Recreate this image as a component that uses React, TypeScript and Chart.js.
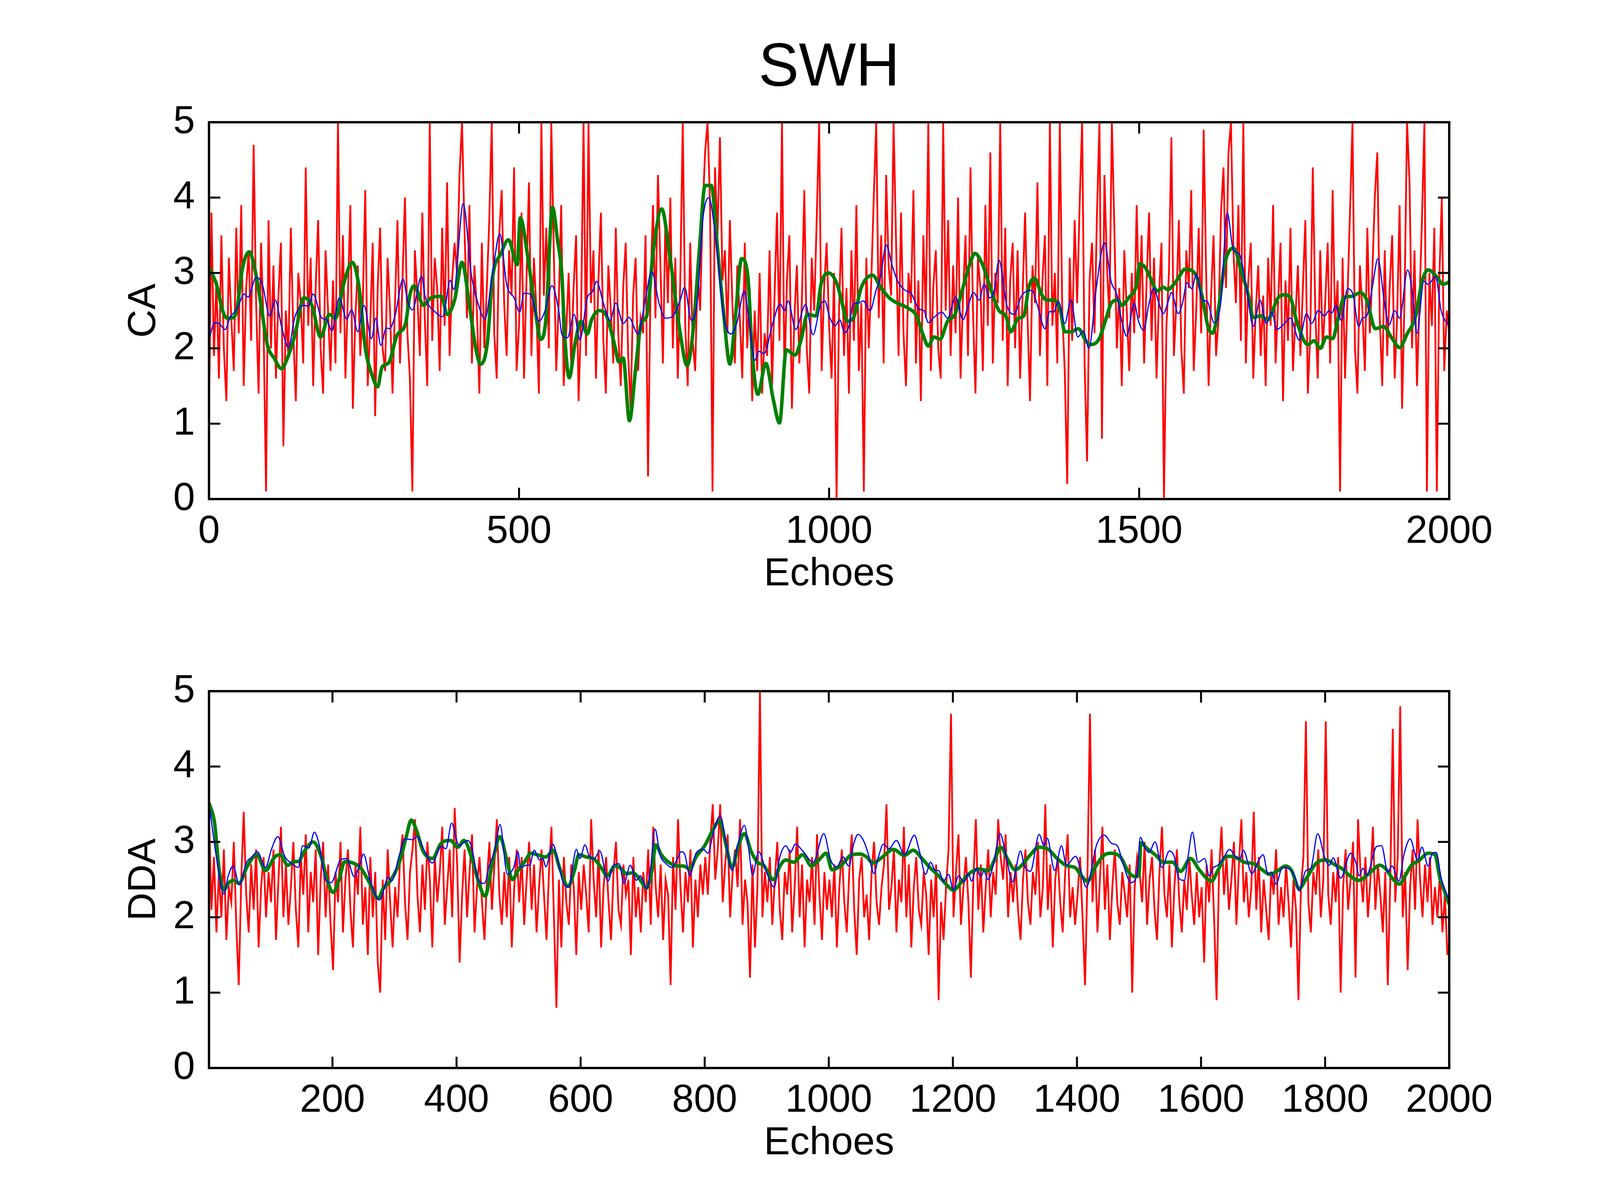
import React, { useEffect, useRef } from "react";
import { Chart, registerables } from "chart.js";

Chart.register(...registerables);

// ---- data ----

// x ticks / y ticks
const X_TICKS_CA = [0, 500, 1000, 1500, 2000];
const X_TICKS_DDA = [200, 400, 600, 800, 1000, 1200, 1400, 1600, 1800, 2000];
const Y_TICKS = [0, 1, 2, 3, 4, 5];

// raw red series, one value every RED_STEP echoes
const RED_STEP = 4;
const RED_CA_START = 0;
const RED_DDA_START = 1;

// CA raw (echo 0..2000)
const RED_CA = [
  1.1, 3.8, 1.9, 2.9, 1.6, 3.5, 2.0, 1.3, 3.2, 2.4, 1.7, 3.6, 2.2, 3.9, 1.5, 2.8, 3.3, 2.1, 4.7, 2.6, 1.4, 3.4, 2.3, 0.1, 3.7,
  2.0, 3.1, 1.6, 2.7, 3.4, 0.7, 2.5, 1.9, 3.6, 2.2, 1.3, 3.0, 2.6, 1.8, 4.4, 2.3, 3.2, 1.5, 2.8, 3.7, 2.0, 1.4, 3.3, 2.5, 1.7,
  2.9, 1.8, 5.0, 2.2, 3.5, 1.6, 2.7, 3.9, 1.2, 2.4, 3.1, 1.9, 2.6, 4.1, 1.5, 2.3, 3.4, 1.1, 2.8, 3.6, 2.0, 1.7, 3.2, 2.5, 1.4,
  2.6, 3.7, 1.8, 2.9, 4.0, 2.2, 1.6, 0.1, 3.3, 2.7, 1.9, 3.8, 2.4, 1.5, 5.0, 2.1, 3.2, 2.8, 1.7, 3.6, 2.3, 4.2, 1.9, 2.9, 3.4,
  3.0, 4.3, 5.0, 3.6, 2.4, 3.9, 1.8, 3.1, 2.5, 1.4, 3.4, 2.0, 2.8, 3.7, 5.0, 2.2, 1.6, 3.5, 4.1, 2.6, 1.9, 3.3, 2.7, 4.4, 1.7,
  2.3, 3.8, 1.6, 2.9, 4.2, 1.9, 3.2, 2.5, 1.4, 5.0, 2.7, 3.6, 2.0, 5.0, 3.3, 1.7, 2.6, 3.9, 1.5, 2.2, 3.0, 1.8, 2.8, 3.5, 1.3,
  2.4, 5.0, 1.9, 5.0, 2.6, 3.3, 1.6, 2.9, 3.8, 2.1, 1.4, 3.1, 2.5, 1.8, 3.6, 2.2, 1.5, 2.8, 3.4, 1.9, 1.2, 2.7, 3.2, 1.7, 2.4,
  2.2, 3.5, 0.3, 2.8, 3.9, 2.4, 4.3, 3.1, 1.8, 3.7, 2.6, 4.0, 2.0, 3.2, 1.6, 2.9, 5.0, 2.3, 1.5, 3.4, 2.1, 1.7, 3.0, 2.5, 3.8,
  4.6, 5.0, 3.9, 0.1, 4.4, 3.5, 4.8, 2.9, 3.3, 2.2, 3.7, 2.6, 1.8, 3.1, 2.4, 1.6, 3.4, 2.0, 2.8, 1.3, 2.5, 1.7, 3.0, 1.4, 2.2,
  1.9, 3.3, 1.5, 2.7, 3.8, 2.1, 5.0, 1.6, 2.9, 3.5, 1.2, 2.4, 3.1, 1.8, 2.6, 4.1, 2.0, 1.4, 3.2, 2.5, 3.7, 5.0, 1.7, 2.8, 3.4,
  2.3, 1.6, 3.0, 0.0, 2.5, 3.6, 1.9, 2.8, 1.4, 3.3, 2.1, 3.9, 1.7, 2.6, 0.1, 3.2, 2.0, 2.9, 4.0, 5.0, 2.4, 3.5, 1.8, 4.3, 3.1,
  2.7, 5.0, 3.4, 1.9, 3.8, 2.2, 1.5, 3.0, 2.6, 4.1, 1.8, 2.9, 1.3, 3.5, 2.4, 5.0, 1.7, 2.8, 3.3, 2.0, 1.6, 5.0, 2.5, 3.7, 1.9,
  3.1, 2.2, 4.0, 1.6, 2.7, 3.5, 1.9, 4.4, 2.5, 1.4, 3.2, 2.8, 1.7, 3.9, 2.3, 4.6, 1.8, 3.0, 2.6, 5.0, 2.1, 3.6, 1.5, 2.9, 3.4,
  2.0, 3.3, 1.6, 2.7, 3.8, 2.4, 1.3, 3.1, 2.6, 4.2, 1.9, 2.9, 3.5, 1.5, 5.0, 2.3, 3.0, 1.8, 5.0, 2.5, 1.7, 0.2, 3.2, 2.1, 3.7,
  2.6, 3.9, 5.0, 1.8, 0.5, 2.9, 3.4, 2.2, 3.8, 5.0, 0.8, 4.3, 3.1, 2.4, 5.0, 3.6, 2.0, 2.8, 1.5, 3.3, 2.5, 1.7, 3.0, 2.2, 3.9,
  2.4, 3.5, 1.8, 2.9, 3.8, 2.1, 3.2, 1.6, 2.7, 3.4, 0.0, 2.3, 3.0, 4.8, 1.9, 2.6, 3.7, 2.0, 1.4, 3.3, 2.8, 4.1, 1.7, 2.5, 3.6,
  2.2, 4.9, 3.0, 1.5, 2.7, 3.5, 1.9, 2.4, 3.8, 4.4, 2.8, 4.6, 5.0, 3.3, 2.6, 3.9, 2.1, 5.0, 1.8, 2.9, 3.4, 1.6, 2.5, 3.1, 1.9,
  2.7, 1.5, 3.2, 2.3, 3.9, 1.8, 2.6, 3.4, 1.3, 2.9, 2.1, 3.6, 1.7, 2.4, 3.1, 1.9, 2.8, 3.7, 1.4, 2.2, 4.4, 2.5, 1.6, 3.3, 2.0,
  2.6, 3.4, 1.8, 4.1, 2.3, 2.9, 0.1, 3.2, 1.6, 2.7, 3.8, 5.0, 2.0, 1.4, 3.1, 2.5, 1.7, 3.6, 2.2, 3.0, 4.0, 4.6, 2.4, 1.5, 3.3,
  1.9, 2.8, 3.5, 1.6, 2.4, 3.9, 1.2, 2.7, 5.0, 4.2, 2.0, 3.3, 1.5, 2.6, 3.7, 5.0, 0.1, 3.0, 2.3, 3.6, 0.1, 2.9, 4.0, 1.7, 2.5,
  2.2,
];

// DDA raw (echo 1..1997)
const RED_DDA = [
  3.4, 2.1, 2.8, 1.8, 2.6, 2.0, 2.9, 1.7, 2.4, 2.2, 3.0, 1.9, 1.1, 2.5, 3.4, 2.3, 1.8, 2.7, 2.1, 2.9, 1.6, 2.4, 2.8, 2.0, 2.6,
  2.2, 2.9, 1.7, 2.5, 3.2, 2.0, 2.7, 1.9, 2.4, 3.0, 2.1, 1.6, 2.8, 2.3, 3.1, 1.8, 2.6, 2.2, 2.9, 1.5, 2.5, 3.0, 2.0, 2.7, 1.9,
  1.3, 2.6, 2.2, 3.0, 1.8, 2.5, 2.9, 2.1, 1.6, 2.7, 2.3, 3.2, 1.9, 2.4, 1.5, 2.8, 2.0, 2.6, 1.4, 1.0, 2.5, 1.7, 2.9, 2.2, 1.6,
  2.4, 2.0, 2.8, 3.1, 2.2, 1.7, 2.6, 2.9, 3.3, 2.3, 1.8, 2.7, 2.1, 3.0, 2.5, 1.6, 2.8, 2.2, 2.6, 3.2, 1.9, 2.4, 2.9, 2.0, 3.45,
  2.7, 1.4, 2.3, 2.9, 2.0, 2.6, 3.1, 1.8, 2.4, 2.8, 2.2, 1.7, 2.5, 3.0, 2.1, 2.7, 3.3, 2.3, 1.9, 2.6, 2.0, 2.8, 1.6, 2.4, 2.9,
  2.2, 2.8, 1.9, 2.5, 3.0, 2.1, 2.7, 1.8, 2.4, 2.9, 2.3, 1.7, 2.6, 3.2, 2.0, 0.8, 2.5, 1.6, 2.8, 2.2, 1.9, 2.7, 2.4, 1.5, 2.6,
  2.1, 2.7, 2.3, 1.8, 3.3, 2.5, 2.0, 2.9, 1.6, 2.4, 2.8, 2.2, 1.7, 2.6, 3.0, 2.1, 1.9, 2.7, 2.3, 2.5, 1.5, 2.8, 2.0, 2.4, 1.8,
  2.6, 2.2, 2.9, 1.9, 3.2, 2.4, 2.0, 2.7, 1.7, 2.5, 2.3, 1.1, 2.8, 2.1, 3.3, 2.4, 1.8, 2.6, 2.2, 2.9, 1.6, 2.5, 2.0, 2.7, 2.3,
  2.8, 2.3, 3.0, 3.5, 2.5, 2.9, 3.5, 2.2, 2.7, 3.1, 2.0, 2.6, 2.9, 2.4, 3.3, 1.9, 2.5, 2.2, 1.2, 2.7, 1.6, 2.4, 5.0, 2.0, 2.6,
  2.2, 2.8, 1.9, 2.5, 3.0, 2.1, 1.7, 2.6, 2.3, 2.9, 1.8, 2.4, 3.2, 2.0, 2.7, 1.6, 2.5, 2.2, 2.8, 1.9, 3.1, 2.3, 1.7, 2.6, 2.1,
  2.5, 2.0, 2.7, 1.6, 2.4, 2.9, 2.2, 1.8, 2.6, 3.1, 2.1, 1.5, 2.5, 2.8, 2.0, 2.3, 1.7, 2.6, 3.0, 2.2, 1.9, 2.4, 2.7, 3.5, 2.1,
  2.4, 2.9, 1.8, 2.5, 2.2, 3.2, 2.0, 2.7, 1.6, 2.4, 2.8, 2.1, 1.9, 2.6, 2.3, 1.5, 2.5, 2.0, 2.7, 0.9, 2.2, 1.7, 2.4, 2.9, 4.7,
  2.0, 2.6, 3.1, 1.9, 2.4, 2.8, 2.2, 1.2, 2.5, 3.3, 2.1, 2.7, 1.8, 2.4, 2.9, 2.0, 2.6, 2.3, 3.3, 2.8, 2.5, 3.1, 2.0, 2.6, 2.2,
  2.7, 2.1, 1.7, 2.5, 2.9, 2.2, 1.9, 2.6, 2.3, 3.0, 2.0, 2.4, 3.5, 2.1, 2.7, 1.6, 2.5, 2.8, 2.2, 1.8, 2.6, 3.1, 2.0, 2.4, 1.9,
  2.3, 2.8, 2.0, 1.1, 2.6, 4.7, 2.2, 2.9, 1.8, 2.5, 3.2, 2.1, 2.7, 1.7, 2.4, 2.9, 2.2, 1.9, 2.6, 2.3, 2.0, 2.7, 1.0, 2.4, 2.8,
  2.6, 2.2, 3.0, 1.9, 2.5, 2.8, 2.1, 1.7, 2.6, 3.2, 2.3, 2.0, 2.7, 1.6, 2.4, 2.9, 2.2, 1.8, 2.5, 2.1, 2.8, 2.3, 1.9, 2.6, 2.0,
  2.4, 1.4, 2.7, 2.2, 2.9, 2.0, 0.9, 2.6, 3.2, 2.3, 2.8, 2.1, 2.5, 3.0, 1.9, 2.7, 3.3, 2.2, 2.6, 2.0, 2.4, 3.4, 2.1, 2.8, 1.8,
  2.5, 2.1, 1.7, 2.6, 2.3, 2.9, 1.9, 2.4, 2.0, 2.7, 2.2, 1.6, 2.5, 2.1, 0.9, 2.4, 2.8, 4.6, 2.2, 1.8, 2.6, 2.3, 2.9, 2.0, 2.5,
  4.6, 2.3, 1.9, 2.6, 2.2, 2.8, 1.0, 2.4, 2.9, 2.1, 2.5, 3.0, 1.2, 3.3, 2.6, 2.2, 2.8, 2.0, 2.5, 3.2, 2.1, 2.7, 2.3, 1.8, 2.6,
  1.1, 2.5, 4.5, 2.2, 2.8, 4.8, 2.0, 2.6, 1.3, 2.4, 2.9, 2.1, 3.3, 2.5, 2.0, 2.7, 2.2, 2.8, 1.9, 2.4, 2.0, 2.6, 1.8, 2.3, 1.5,
];

// CA smoothed (blue)
const BLUE_CA_X = [
  1, 9, 16, 26, 34, 45, 57, 63, 76, 86, 98, 107, 117, 128, 139, 153, 160, 168, 182, 190, 198, 210, 222, 230, 240, 250, 262, 269, 277, 286,
  291, 300, 313, 320, 328, 343, 348, 365, 377, 389, 395, 410, 423, 433, 445, 457, 469, 480, 492, 501, 508, 518, 532, 542, 553, 564, 569, 578, 589, 598,
  610, 619, 625, 636, 647, 656, 668, 677, 692, 704, 714, 726, 736, 747, 760, 767, 778, 788, 796, 806, 818, 830, 842, 852, 863, 871, 880, 887, 895, 909,
  921, 928, 934, 946, 962, 974, 986, 993, 1001, 1010, 1017, 1025, 1032, 1039, 1047, 1055, 1066, 1076, 1083, 1092, 1102, 1110, 1121, 1133, 1145, 1153, 1160, 1169, 1182, 1191,
  1204, 1216, 1223, 1233, 1242, 1250, 1259, 1266, 1274, 1286, 1298, 1310, 1319, 1327, 1336, 1348, 1356, 1362, 1370, 1380, 1390, 1401, 1410, 1419, 1431, 1444, 1455, 1464, 1472, 1480,
  1492, 1499, 1507, 1516, 1524, 1531, 1539, 1546, 1552, 1563, 1570, 1577, 1585, 1592, 1603, 1609, 1621, 1632, 1642, 1652, 1661, 1673, 1684, 1695, 1705, 1714, 1722, 1732, 1744, 1758,
  1770, 1778, 1789, 1799, 1806, 1811, 1817, 1826, 1836, 1845, 1854, 1860, 1867, 1876, 1885, 1895, 1903, 1912, 1920, 1933, 1941, 1948, 1959, 1966, 1978, 1987, 2000,
];
const BLUE_CA_Y = [
  2.15, 2.34, 2.33, 2.25, 2.41, 2.52, 2.72, 2.68, 2.94, 2.85, 2.43, 2.64, 2.29, 2.01, 2.43, 2.57, 2.56, 2.72, 2.4, 2.38, 2.23, 2.67, 2.39, 2.51, 2.22, 2.57, 2.13, 2.4, 2.04, 2.27,
  2.26, 2.43, 2.92, 2.64, 2.51, 2.96, 2.71, 2.48, 2.42, 2.9, 2.78, 3.92, 2.98, 2.62, 2.39, 2.98, 3.52, 2.85, 2.67, 2.48, 2.73, 2.72, 2.36, 2.5, 2.83, 2.5, 2.19, 2.14, 2.45, 2.11,
  2.67, 2.76, 2.89, 2.6, 2.37, 2.6, 2.33, 2.41, 2.19, 2.67, 3.02, 2.59, 2.4, 2.42, 2.64, 2.81, 2.37, 2.67, 3.68, 4.0, 3.4, 2.43, 2.19, 2.36, 2.76, 2.36, 1.84, 1.96, 1.93, 2.33,
  2.59, 2.5, 2.63, 2.25, 2.58, 2.18, 2.57, 2.63, 2.41, 2.3, 2.38, 2.21, 2.29, 2.59, 2.6, 2.63, 2.5, 2.78, 2.95, 3.37, 3.09, 2.9, 2.78, 2.72, 2.52, 2.5, 2.34, 2.41, 2.48, 2.4,
  2.68, 2.38, 2.53, 2.74, 2.64, 2.85, 2.67, 2.76, 3.17, 2.59, 2.45, 2.69, 2.76, 2.77, 2.57, 2.26, 2.49, 2.48, 2.62, 2.33, 2.64, 2.15, 2.23, 2.0, 2.81, 3.4, 2.88, 2.71, 2.36, 2.16,
  2.6, 2.36, 2.24, 2.6, 2.8, 2.62, 2.46, 2.6, 2.74, 2.46, 2.6, 2.87, 2.79, 2.98, 2.63, 2.63, 2.34, 2.64, 3.8, 3.3, 3.26, 2.81, 2.29, 2.64, 2.33, 2.48, 2.25, 2.31, 2.4, 2.11,
  2.46, 2.33, 2.5, 2.43, 2.5, 2.47, 2.57, 2.37, 2.79, 2.71, 2.29, 2.4, 2.43, 2.81, 3.19, 2.64, 2.31, 2.5, 2.4, 3.04, 2.71, 2.2, 2.89, 2.85, 2.95, 2.5, 2.29,
];

// CA smoothed (green)
const GREEN_CA_X = [
  0, 12, 22, 29, 40, 46, 53, 65, 74, 84, 94, 105, 117, 125, 139, 153, 166, 180, 194, 204, 218, 231, 242, 252, 262, 272, 279, 290, 303, 317,
  324, 331, 346, 358, 375, 384, 396, 408, 420, 430, 438, 449, 457, 471, 483, 497, 502, 514, 525, 535, 543, 554, 562, 569, 574, 581, 590, 600, 610, 617,
  629, 641, 654, 661, 668, 678, 688, 697, 706, 716, 730, 743, 752, 760, 771, 781, 791, 800, 810, 820, 830, 840, 849, 859, 869, 876, 885, 898, 910, 920,
  931, 945, 955, 965, 979, 987, 999, 1013, 1021, 1029, 1039, 1052, 1070, 1083, 1097, 1110, 1128, 1141, 1151, 1160, 1169, 1179, 1191, 1203, 1216, 1227, 1235, 1247, 1257, 1274,
  1285, 1293, 1305, 1314, 1322, 1331, 1343, 1351, 1363, 1373, 1380, 1390, 1402, 1414, 1421, 1435, 1448, 1455, 1466, 1472, 1483, 1496, 1501, 1510, 1519, 1529, 1539, 1546, 1556, 1563,
  1574, 1591, 1601, 1611, 1618, 1628, 1638, 1652, 1666, 1676, 1684, 1696, 1707, 1724, 1734, 1744, 1754, 1772, 1782, 1792, 1802, 1812, 1821, 1830, 1843, 1857, 1867, 1881, 1894, 1908,
  1920, 1932, 1946, 1956, 1966, 1980, 1990, 2000,
];
const GREEN_CA_Y = [
  3.07, 2.85, 2.5, 2.4, 2.41, 2.57, 3.02, 3.28, 3.05, 2.57, 2.05, 1.87, 1.73, 1.84, 2.19, 2.67, 2.57, 2.15, 2.45, 2.4, 2.88, 3.14, 2.81, 2.01, 1.67, 1.49, 1.75, 1.81, 2.17, 2.33,
  2.71, 2.83, 2.57, 2.67, 2.69, 2.45, 2.64, 3.14, 2.57, 2.01, 1.79, 2.08, 2.92, 3.26, 3.44, 3.11, 3.73, 3.22, 2.57, 2.12, 2.36, 3.87, 3.44, 2.98, 2.12, 1.61, 2.05, 2.36, 2.19, 2.38,
  2.5, 2.43, 2.05, 1.82, 1.87, 1.04, 1.73, 2.33, 2.43, 3.26, 3.85, 3.23, 2.67, 2.19, 1.77, 2.26, 3.33, 4.16, 4.16, 3.33, 2.46, 1.79, 2.43, 3.19, 2.95, 1.94, 1.39, 1.8, 1.32, 1.01,
  1.98, 1.91, 2.12, 2.45, 2.43, 2.85, 3.0, 2.85, 2.6, 2.36, 2.4, 2.81, 2.97, 2.81, 2.67, 2.6, 2.53, 2.43, 2.19, 2.03, 2.15, 2.12, 2.36, 2.45, 2.81, 3.12, 3.26, 3.12, 2.88, 2.5,
  2.43, 2.22, 2.4, 2.43, 2.81, 2.93, 2.71, 2.64, 2.64, 2.5, 2.22, 2.22, 2.26, 2.1, 2.05, 2.12, 2.43, 2.6, 2.64, 2.57, 2.67, 2.85, 3.12, 3.07, 2.92, 2.76, 2.81, 2.78, 2.85, 2.93,
  3.05, 2.98, 2.71, 2.29, 2.2, 2.53, 3.12, 3.33, 2.98, 2.71, 2.41, 2.43, 2.38, 2.67, 2.71, 2.67, 2.36, 2.05, 2.1, 2.0, 2.15, 2.13, 2.4, 2.67, 2.69, 2.74, 2.64, 2.26, 2.29, 2.13,
  2.01, 2.19, 2.43, 2.88, 3.04, 2.95, 2.85, 2.88,
];

// DDA smoothed (blue)
const BLUE_DDA_X = [
  1, 15, 25, 32, 40, 50, 61, 70, 79, 92, 102, 112, 123, 135, 145, 152, 162, 171, 179, 189, 198, 213, 223, 235, 244, 250, 261, 276, 290, 295,
  308, 317, 329, 336, 349, 361, 375, 383, 392, 404, 418, 424, 436, 445, 453, 462, 470, 482, 492, 499, 503, 513, 518, 525, 534, 539, 544, 555, 565, 571,
  581, 593, 599, 607, 614, 622, 631, 644, 653, 662, 670, 680, 690, 696, 707, 713, 720, 728, 738, 747, 755, 762, 768, 776, 786, 798, 805, 815, 825, 834,
  844, 853, 864, 871, 877, 887, 899, 912, 921, 931, 938, 946, 958, 975, 992, 1003, 1013, 1023, 1032, 1040, 1047, 1057, 1064, 1073, 1080, 1088, 1097, 1109, 1122, 1138,
  1146, 1156, 1164, 1172, 1177, 1185, 1193, 1201, 1209, 1218, 1225, 1230, 1238, 1245, 1250, 1257, 1265, 1276, 1286, 1296, 1309, 1315, 1325, 1339, 1347, 1352, 1364, 1375, 1383, 1398,
  1405, 1415, 1432, 1444, 1456, 1465, 1475, 1487, 1497, 1502, 1510, 1516, 1526, 1537, 1549, 1557, 1564, 1573, 1579, 1586, 1595, 1606, 1613, 1620, 1627, 1637, 1646, 1656, 1663, 1668,
  1682, 1692, 1700, 1708, 1713, 1721, 1731, 1743, 1752, 1758, 1769, 1777, 1788, 1799, 1807, 1813, 1825, 1841, 1849, 1855, 1861, 1867, 1883, 1891, 1901, 1908, 1919, 1927, 1937, 1949,
  1956, 1966, 1973, 1979, 1987, 2000,
];
const BLUE_DDA_Y = [
  3.51, 2.69, 2.31, 2.55, 2.68, 2.43, 2.72, 2.8, 2.87, 2.66, 2.91, 3.07, 2.81, 2.71, 2.66, 2.95, 2.92, 3.13, 2.95, 2.5, 2.46, 2.76, 2.78, 2.54, 2.7, 2.84, 2.48, 2.23, 2.53, 2.48,
  2.83, 3.04, 3.03, 3.07, 2.87, 2.72, 2.94, 2.91, 3.25, 2.95, 3.02, 2.94, 2.48, 2.45, 2.69, 2.9, 3.23, 2.57, 2.66, 2.87, 2.66, 2.69, 2.69, 2.89, 2.76, 2.78, 2.67, 2.97, 2.69, 2.48,
  2.4, 2.9, 2.78, 2.96, 2.81, 2.78, 2.88, 2.48, 2.69, 2.71, 2.45, 2.69, 2.49, 2.55, 2.38, 2.67, 3.17, 2.83, 2.71, 2.66, 2.76, 2.87, 2.83, 2.55, 2.85, 2.9, 2.85, 3.16, 3.35, 3.0,
  2.62, 2.95, 3.22, 2.9, 2.56, 2.87, 2.61, 2.4, 2.8, 2.95, 2.86, 2.97, 2.88, 2.73, 3.11, 2.76, 2.67, 2.8, 2.68, 2.97, 3.1, 3.0, 2.83, 2.58, 2.8, 2.97, 2.91, 3.02, 2.83, 3.09,
  2.88, 2.57, 2.73, 2.62, 2.62, 2.48, 2.57, 2.36, 2.55, 2.47, 2.58, 2.48, 2.65, 2.54, 2.61, 2.5, 2.69, 3.11, 2.8, 2.47, 2.88, 2.69, 2.61, 3.1, 2.95, 3.05, 2.62, 2.95, 2.69, 2.81,
  2.66, 2.4, 2.97, 3.09, 2.98, 2.95, 2.69, 2.46, 2.58, 3.06, 2.92, 2.86, 3.0, 2.66, 2.88, 2.8, 2.52, 2.49, 2.8, 3.13, 2.73, 2.78, 2.55, 2.66, 2.69, 2.8, 2.9, 2.8, 2.78, 2.89,
  2.58, 2.74, 2.83, 2.57, 2.6, 2.44, 2.66, 2.64, 2.52, 2.35, 2.62, 2.65, 3.11, 2.8, 2.69, 2.79, 2.52, 2.85, 2.74, 2.55, 2.65, 2.56, 2.94, 2.95, 2.6, 2.68, 2.48, 2.83, 3.04, 2.76,
  2.93, 2.68, 2.85, 2.86, 2.52, 2.22,
];

// DDA smoothed (green)
const GREEN_DDA_X = [
  1, 10, 17, 25, 32, 41, 49, 63, 78, 92, 107, 116, 128, 138, 145, 155, 169, 182, 192, 201, 210, 220, 233, 245, 259, 274, 281, 293, 308, 319,
  327, 336, 346, 361, 375, 390, 402, 412, 424, 435, 446, 458, 470, 481, 490, 499, 510, 520, 530, 544, 556, 566, 580, 590, 597, 609, 622, 633, 643, 655,
  663, 674, 684, 694, 706, 715, 721, 730, 742, 755, 766, 776, 786, 800, 812, 824, 834, 844, 854, 864, 875, 885, 895, 911, 922, 931, 943, 958, 972, 984,
  996, 1005, 1020, 1037, 1051, 1061, 1071, 1085, 1104, 1122, 1136, 1150, 1163, 1177, 1190, 1201, 1214, 1228, 1242, 1257, 1267, 1277, 1289, 1300, 1311, 1325, 1339, 1354, 1368, 1385,
  1397, 1407, 1417, 1429, 1443, 1456, 1470, 1484, 1494, 1500, 1503, 1512, 1520, 1530, 1538, 1554, 1567, 1583, 1598, 1617, 1627, 1641, 1654, 1670, 1685, 1697, 1711, 1724, 1736, 1746,
  1758, 1770, 1786, 1801, 1815, 1828, 1840, 1854, 1871, 1888, 1898, 1908, 1920, 1929, 1939, 1951, 1966, 1977, 1985, 1994, 2000,
];
const GREEN_DDA_Y = [
  3.52, 3.25, 2.66, 2.36, 2.45, 2.49, 2.45, 2.68, 2.83, 2.62, 2.8, 2.83, 2.69, 2.74, 2.74, 2.88, 3.0, 2.8, 2.48, 2.33, 2.48, 2.74, 2.72, 2.66, 2.47, 2.25, 2.37, 2.48, 2.73, 3.07,
  3.29, 3.14, 2.88, 2.78, 2.98, 3.02, 2.93, 3.02, 2.8, 2.48, 2.28, 2.73, 3.07, 2.76, 2.5, 2.62, 2.74, 2.85, 2.83, 2.8, 2.89, 2.66, 2.41, 2.62, 2.83, 2.8, 2.77, 2.66, 2.55, 2.68,
  2.66, 2.58, 2.59, 2.52, 2.39, 2.62, 2.96, 2.83, 2.73, 2.68, 2.68, 2.64, 2.8, 2.95, 3.14, 3.28, 2.97, 2.66, 2.94, 3.11, 2.87, 2.73, 2.69, 2.5, 2.69, 2.76, 2.73, 2.83, 2.68, 2.76,
  2.85, 2.63, 2.69, 2.83, 2.84, 2.8, 2.72, 2.79, 2.9, 2.82, 2.89, 2.78, 2.66, 2.55, 2.43, 2.36, 2.47, 2.59, 2.64, 2.62, 2.76, 2.93, 2.76, 2.63, 2.69, 2.83, 2.93, 2.9, 2.78, 2.68,
  2.66, 2.55, 2.48, 2.66, 2.82, 2.85, 2.8, 2.59, 2.54, 2.56, 2.99, 2.92, 2.87, 2.8, 2.73, 2.73, 2.61, 2.78, 2.62, 2.48, 2.62, 2.81, 2.8, 2.73, 2.71, 2.64, 2.57, 2.62, 2.68, 2.62,
  2.38, 2.52, 2.72, 2.76, 2.7, 2.64, 2.55, 2.49, 2.58, 2.69, 2.64, 2.52, 2.44, 2.55, 2.69, 2.75, 2.85, 2.83, 2.52, 2.31, 2.17,
];

// ---- layout / style ----
const FIG_W = 4100;
const TOP_H = 1536;
const BOT_H = 1537;
const AXES_LEFT = 535;
const PAD_RIGHT = FIG_W - 3710;
const TICK_LEN = 29;
const FONT = "'Liberation Sans', Arial, Helvetica, sans-serif";
const RED = "#ff0000";
const BLUE = "#0000ff";
const GREEN = "#008000";

type PanelOpts = {
  red: number[];
  redStart: number;
  blueX: number[];
  blueY: number[];
  greenX: number[];
  greenY: number[];
  xMin: number;
  xTicks: number[];
  yLabel: string;
  title?: string;
  padTop: number;
  xAxisH: number;
  xTitlePad: number;
};

// box + inward tick marks on all four sides, like the original figure
const frameTicks = {
  id: "frameTicks",
  afterDatasetsDraw(chart: Chart) {
    const { ctx, chartArea: a } = chart;
    const xs = chart.scales.x;
    const ys = chart.scales.y;
    ctx.save();
    ctx.strokeStyle = "#000";
    ctx.lineWidth = 5;
    ctx.beginPath();
    xs.ticks.forEach((t) => {
      const px = xs.getPixelForValue(t.value);
      ctx.moveTo(px, a.bottom);
      ctx.lineTo(px, a.bottom - TICK_LEN);
      ctx.moveTo(px, a.top);
      ctx.lineTo(px, a.top + TICK_LEN);
    });
    ys.ticks.forEach((t) => {
      const py = ys.getPixelForValue(t.value);
      ctx.moveTo(a.left, py);
      ctx.lineTo(a.left + TICK_LEN, py);
      ctx.moveTo(a.right, py);
      ctx.lineTo(a.right - TICK_LEN, py);
    });
    ctx.stroke();
    ctx.lineWidth = 6;
    ctx.strokeRect(a.left, a.top, a.right - a.left, a.bottom - a.top);
    ctx.restore();
  },
};

function makePanel(canvas: HTMLCanvasElement, o: PanelOpts) {
  const redPts = o.red.map((y, i) => ({ x: o.redStart + i * RED_STEP, y }));
  const bluePts = o.blueX.map((x, i) => ({ x, y: o.blueY[i] }));
  const greenPts = o.greenX.map((x, i) => ({ x, y: o.greenY[i] }));
  const tickFont = { family: FONT, size: 100, weight: "normal" as const };

  return new Chart(canvas, {
    type: "line",
    data: {
      datasets: [
        { label: "raw", data: redPts, borderColor: RED, borderWidth: 4.5, pointRadius: 0, tension: 0, order: 3, clip: 0 },
        {
          label: "smooth2",
          data: greenPts,
          borderColor: GREEN,
          borderWidth: 9,
          pointRadius: 0,
          cubicInterpolationMode: "monotone",
          order: 2,
          clip: 0,
        },
        {
          label: "smooth1",
          data: bluePts,
          borderColor: BLUE,
          borderWidth: 3,
          pointRadius: 0,
          cubicInterpolationMode: "monotone",
          order: 1,
          clip: 0,
        },
      ],
    },
    options: {
      animation: false,
      responsive: false,
      devicePixelRatio: 1,
      events: [],
      layout: { padding: { top: o.padTop, left: 0, right: PAD_RIGHT, bottom: 0 } },
      plugins: {
        legend: { display: false },
        tooltip: { enabled: false },
        title: o.title
          ? {
              display: true,
              text: o.title,
              fullSize: false,
              color: "#000",
              font: { family: FONT, size: 155, weight: "normal" },
              padding: { top: 83, bottom: 44 },
            }
          : { display: false },
      },
      scales: {
        x: {
          type: "linear",
          min: o.xMin,
          max: 2000,
          afterBuildTicks: (s: any) => {
            s.ticks = o.xTicks.map((v) => ({ value: v }));
          },
          afterFit: (s: any) => {
            s.height = o.xAxisH;
          },
          grid: { display: false },
          border: { display: false },
          ticks: {
            autoSkip: false,
            maxRotation: 0,
            padding: 16,
            color: "#000",
            font: tickFont,
            callback: (v: any) => String(v),
          },
          title: {
            display: true,
            text: "Echoes",
            color: "#000",
            font: tickFont,
            padding: { top: 0, bottom: o.xTitlePad },
          },
        },
        y: {
          type: "linear",
          min: 0,
          max: 5,
          afterBuildTicks: (s: any) => {
            s.ticks = Y_TICKS.map((v) => ({ value: v }));
          },
          afterFit: (s: any) => {
            s.width = AXES_LEFT;
          },
          grid: { display: false },
          border: { display: false },
          ticks: { padding: 28, color: "#000", font: tickFont, callback: (v: any) => String(v) },
          title: {
            display: true,
            text: o.yLabel,
            color: "#000",
            font: tickFont,
            padding: { top: 309, bottom: 0 },
          },
        },
      },
    },
    plugins: [frameTicks],
  });
}

export default function App() {
  const topRef = useRef<HTMLCanvasElement | null>(null);
  const botRef = useRef<HTMLCanvasElement | null>(null);

  useEffect(() => {
    if (!topRef.current || !botRef.current) return;

    const top = makePanel(topRef.current, {
      red: RED_CA,
      redStart: RED_CA_START,
      blueX: BLUE_CA_X,
      blueY: BLUE_CA_Y,
      greenX: GREEN_CA_X,
      greenY: GREEN_CA_Y,
      xMin: 0,
      xTicks: X_TICKS_CA,
      yLabel: "CA",
      title: "SWH",
      padTop: 0,
      xAxisH: TOP_H - 1278,
      xTitlePad: 5,
    });

    const bottom = makePanel(botRef.current, {
      red: RED_DDA,
      redStart: RED_DDA_START,
      blueX: BLUE_DDA_X,
      blueY: BLUE_DDA_Y,
      greenX: GREEN_DDA_X,
      greenY: GREEN_DDA_Y,
      xMin: 1,
      xTicks: X_TICKS_DDA,
      yLabel: "DDA",
      padTop: 1770 - TOP_H,
      xAxisH: BOT_H - (2735 - TOP_H),
      xTitlePad: 85,
    });

    return () => {
      top.destroy();
      bottom.destroy();
    };
  }, []);

  return (
    <div style={{ position: "fixed", left: 0, top: 0, width: FIG_W, height: TOP_H + BOT_H, background: "#fff" }}>
      <canvas
        ref={topRef}
        width={FIG_W}
        height={TOP_H}
        style={{ position: "absolute", left: 0, top: 0, width: FIG_W, height: TOP_H, display: "block" }}
      />
      <canvas
        ref={botRef}
        width={FIG_W}
        height={BOT_H}
        style={{ position: "absolute", left: 0, top: TOP_H, width: FIG_W, height: BOT_H, display: "block" }}
      />
    </div>
  );
}
